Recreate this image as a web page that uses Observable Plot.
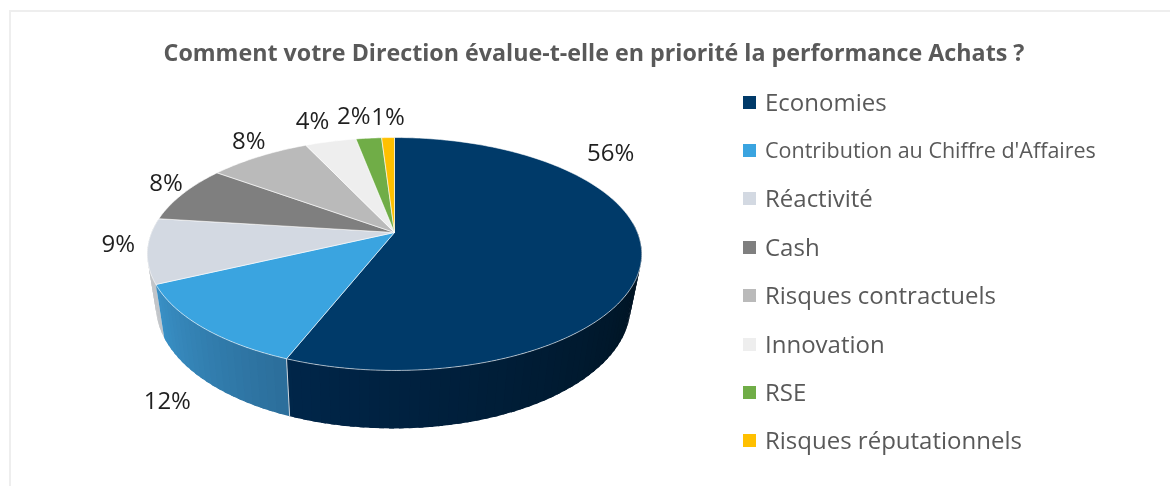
<!DOCTYPE html>
<html lang="fr">
<head>
<meta charset="utf-8">
<script src="https://cdn.jsdelivr.net/npm/d3@7"></script>
<script src="https://cdn.jsdelivr.net/npm/@observablehq/plot@0.6"></script>
<style>
  html, body { margin: 0; padding: 0; background: #fff; overflow: hidden; }
  #page { position: relative; width: 1170px; height: 486px; font-family: "Open Sans", sans-serif; filter: blur(0.45px); }
  #frame { position: absolute; left: 9px; top: 10px; right: 0; bottom: 0; border-top: 2px solid #eeeeee; border-left: 2px solid #eeeeee; }
  #title { position: absolute; left: 0; width: 1188px; top: 36px; text-align: center; font-size: 23.25px; font-weight: 700; color: #595959; white-space: nowrap; }
  #chart { position: absolute; left: 0; top: 0; }
  .row { position: absolute; left: 743px; height: 0; color: #595959; white-space: nowrap; }
  .sw { position: absolute; left: 0; top: -7px; width: 13px; height: 13px; }
  .lb { position: absolute; left: 22px; top: -17px; line-height: 32px; }
</style>
</head>
<body>
<div id="page">
  <div id="frame"></div>
  <div id="chart"></div>
  <div id="title"></div>
  <div id="legend"></div>
</div>
<script>
const title = "Comment votre Direction évalue-t-elle en priorité la performance Achats ?";
const categories = ["Economies", "Contribution au Chiffre d'Affaires", "Réactivité", "Cash", "Risques contractuels", "Innovation", "RSE", "Risques réputationnels"];
const shares = [56, 12, 9, 8, 8, 4, 2, 1];
const palette = ["#003a69", "#3aa4e0", "#d3d9e2", "#7f7f7f", "#bababa", "#eeeeee", "#70ad47", "#ffc000"];
const legendFontSizes = [24, 21.5, 24, 24, 24, 24, 24, 24];
// Label nudges from each slice's rim midpoint, in pixels
const labelDx = [-31, -35, -29, -17, -10, -18, -15, 0];
const labelDy = [-101, 74, -6, -10, -15, -20, -22, -20];

// Perspective tilt of the disc, and how the lower rim sits relative to the top one
const tilt = 0.1845;
const rim = (a) => {
  const X = Math.sin(a), Y = -Math.cos(a), d = 1 - tilt * Y;
  return {x: X / d, y: Y / d, Y};
};
const lower = (p) => ({x: p.x * 0.96 - 0.005, y: p.y + (50 + 8 * p.Y) / 112.5});

const arcs = d3.pie().sort(null)(shares);
const rad = Math.PI / 180;

// Top surface of every slice
const topPts = [];
arcs.forEach((s, i) => {
  const n = Math.max(2, Math.ceil((s.endAngle - s.startAngle) / rad));
  topPts.push({x: 0, y: 0, c: categories[i]});
  for (let j = 0; j <= n; ++j) {
    const p = rim(s.startAngle + (s.endAngle - s.startAngle) * j / n);
    topPts.push({x: p.x, y: p.y, c: categories[i]});
  }
  topPts.push({x: 0, y: 0, c: categories[i]});
});

// Side wall, as narrow overlapping strips so that its shading can vary
const wallShades = [
  d3.interpolateRgb("#00264a", "#001525"),
  d3.interpolateRgb("#3a92c8", "#2c6f9c"),
  () => "#c2c5c9"
];
const wallPts = [];
let strip = 0;
[2, 1, 0].forEach((i) => {
  const a0 = i === 0 ? 85 * rad : arcs[i].startAngle;
  const a1 = arcs[i].endAngle;
  const n = Math.ceil((a1 - a0) / (2 * rad));
  // drawn from the far end towards the start of the section; each strip reaches over the next
  for (let j = n - 1; j >= 0; --j) {
    const u0 = a0 + (a1 - a0) * j / n, u1 = a0 + (a1 - a0) * (j + 1) / n;
    const p0 = rim(u0), p1 = rim(u1), q0 = lower(p0), q1 = lower(p1);
    const t = i === 0 ? Math.min(1, (a1 - u0) / (a1 - 110 * rad)) : (a1 - u0) / (a1 - a0);
    const color = d3.color(wallShades[i](t)).formatHex();
    const hold = j === n - 1 ? [] : [rim(u1 + rad)];
    const poly = [p0, p1, ...hold, ...hold.map(lower), q1, q0, p0];
    poly.forEach((p) => wallPts.push({x: p.x, y: p.y, id: strip, color}));
    ++strip;
  }
});

// Light edge where the two front wall sections meet
const seam = rim(arcs[0].endAngle);
const seamPts = [seam, lower(seam)];

const labels = arcs.map((s, i) => {
  const p = rim((s.startAngle + s.endAngle) / 2);
  return {x: p.x, y: p.y, label: shares[i] + "%", dx: labelDx[i], dy: labelDy[i]};
});

const chart = Plot.plot({
  width: 1170,
  height: 486,
  margin: 0,
  style: {background: "transparent", overflow: "visible"},
  x: {axis: null, domain: [-1, 1], range: [394 - 243, 394 + 243]},
  y: {axis: null, domain: [-1, 1], range: [232 - 112.5, 232 + 112.5]},
  color: {domain: categories, range: palette},
  marks: [
    Plot.line(wallPts, {x: "x", y: "y", z: "id", curve: "linear",
      fill: {value: "color", scale: null}}),
    Plot.line(seamPts, {x: "x", y: "y", stroke: "#c9d3dc", strokeWidth: 1}),
    Plot.line(topPts, {x: "x", y: "y", z: "c", fill: "c", curve: "linear",
      stroke: "#ffffff", strokeWidth: 0.9, strokeOpacity: 0.65}),
    ...labels.map((d) => Plot.text([d], {x: "x", y: "y", text: "label", dx: d.dx, dy: d.dy,
      fontSize: 24, fontFamily: "Open Sans", fill: "#1f1f1f", textAnchor: "middle"}))
  ]
});
document.getElementById("chart").append(chart);
document.getElementById("title").textContent = title;

const legend = document.getElementById("legend");
categories.forEach((c, i) => {
  const row = document.createElement("div");
  row.className = "row";
  row.style.top = (102.5 + i * 48.4) + "px";
  const sw = document.createElement("span");
  sw.className = "sw";
  sw.style.background = palette[i];
  const lb = document.createElement("span");
  lb.className = "lb";
  lb.style.fontSize = legendFontSizes[i] + "px";
  lb.textContent = c;
  row.append(sw, lb);
  legend.append(row);
});
</script>
</body>
</html>
